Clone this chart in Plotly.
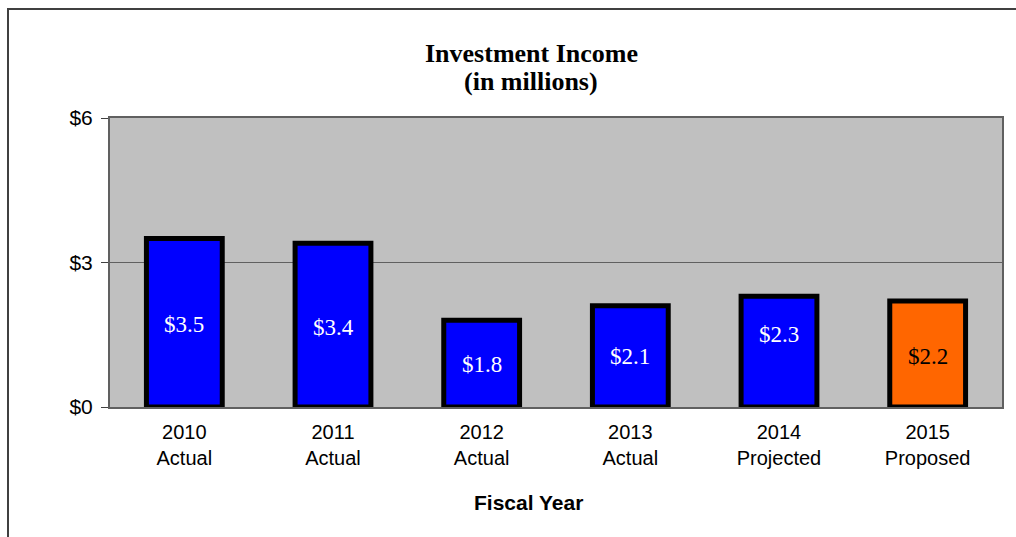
import plotly.graph_objects as go

# Fiscal-year categories and investment income (millions of dollars)
years = ["2010", "2011", "2012", "2013", "2014", "2015"]
statuses = ["Actual", "Actual", "Actual", "Actual", "Projected", "Proposed"]
income = [3.5, 3.4, 1.8, 2.1, 2.3, 2.2]
bar_colors = ["#0000FF", "#0000FF", "#0000FF", "#0000FF", "#0000FF", "#FF6600"]
label_colors = ["white", "white", "white", "white", "white", "black"]
y_ticks = [0, 3, 6]
y_tick_text = ["$0", "$3", "$6"]

categories = [f"{y}<br>{s}" for y, s in zip(years, statuses)]

# vertical nudge (px) applied to each value label, relative to the bar middle
label_nudge = [-2, -2, -1, 0, 17, -2]

fig = go.Figure(
    go.Bar(
        x=categories,
        y=income,
        marker=dict(color=bar_colors, line=dict(color="black", width=5)),
        hoverinfo="skip",
    )
)

W, H = 1016, 537
L, R, T, B = 110, 14, 118, 130
pw, ph = W - L - R, H - T - B

def px_to_paper_x(px):
    return (px - L) / pw

def px_to_paper_y(py):
    return (H - B - py) / ph

title_font = dict(family="Liberation Serif", size=26, color="black")

value_labels = [
    dict(
        text=f"${v:.1f}",
        x=c, y=v / 2, xref="x", yref="y",
        yshift=dy, showarrow=False,
        xanchor="center", yanchor="middle",
        font=dict(family="Liberation Serif", size=23, color=col),
    )
    for c, v, col, dy in zip(categories, income, label_colors, label_nudge)
]

fig.update_layout(
    width=W,
    height=H,
    margin=dict(l=L, r=R, t=T, b=B),
    paper_bgcolor="white",
    plot_bgcolor="#C0C0C0",
    bargap=0.49,
    showlegend=False,
    xaxis=dict(
        showgrid=False,
        showline=True,
        linecolor="#606060",
        linewidth=2,
        mirror=True,
        ticks="",
        ticklabelstandoff=6,
        tickfont=dict(family="Liberation Sans", size=20, color="black"),
    ),
    yaxis=dict(
        range=[0, 6],
        tickvals=y_ticks,
        ticktext=y_tick_text,
        showgrid=True,
        gridcolor="#606060",
        gridwidth=1,
        showline=True,
        linecolor="#606060",
        linewidth=2,
        mirror=True,
        ticks="outside",
        ticklen=7,
        tickcolor="#404040",
        ticklabelstandoff=4,
        tickfont=dict(family="Liberation Sans", size=21, color="black"),
        zeroline=False,
    ),
    annotations=value_labels + [
        dict(
            text="<b>Investment Income</b>",
            x=px_to_paper_x(531), y=px_to_paper_y(53),
            xref="paper", yref="paper", showarrow=False,
            xanchor="center", yanchor="middle",
            font=title_font,
        ),
        dict(
            text="<b>(in millions)</b>",
            x=px_to_paper_x(531), y=px_to_paper_y(81),
            xref="paper", yref="paper", showarrow=False,
            xanchor="center", yanchor="middle",
            font=title_font,
        ),
        dict(
            text="<b>Fiscal Year</b>",
            x=px_to_paper_x(528), y=px_to_paper_y(502),
            xref="paper", yref="paper", showarrow=False,
            xanchor="center", yanchor="middle",
            font=dict(family="Liberation Sans", size=21, color="black"),
        ),
    ],
    shapes=[
        dict(
            type="rect", xref="paper", yref="paper",
            x0=px_to_paper_x(8), x1=px_to_paper_x(1040),
            y0=px_to_paper_y(560), y1=px_to_paper_y(9),
            line=dict(color="#404040", width=2),
            fillcolor="rgba(0,0,0,0)", layer="below",
        )
    ],
)

fig.write_html("out.html")
